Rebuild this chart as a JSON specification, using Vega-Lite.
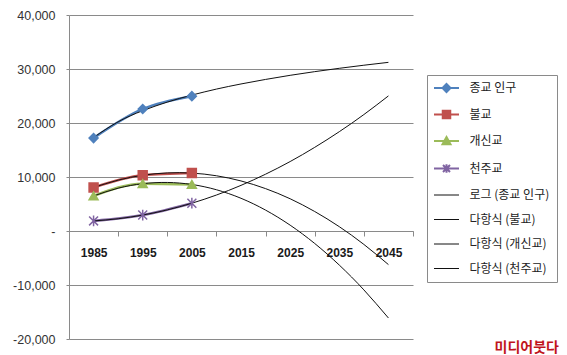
{
  "$schema": "https://vega.github.io/schema/vega-lite/v6.json",
  "width": 344,
  "height": 324,
  "autosize": {"type": "none"},
  "padding": {"left": 69, "top": 15, "right": 154, "bottom": 16},
  "background": "white",
  "title": {
    "text": "미디어붓다", "orient": "bottom", "anchor": "end", "frame": "group",
    "dx": 146, "offset": -5, "font": "Noto Sans CJK KR", "fontSize": 14, "fontWeight": "bold",
    "color": "#c0141c"
  },
  "config": {
    "view": {"stroke": null},
    "axis": {"labelFont": "Liberation Sans", "titleFont": "Liberation Sans"}
  },
  "data": {"values": [
    {"name": "종교 인구", "kind": "data", "year": 1985, "value": 17203},
    {"name": "종교 인구", "kind": "data", "year": 1995, "value": 22598},
    {"name": "종교 인구", "kind": "data", "year": 2005, "value": 24971},
    {"name": "불교", "kind": "data", "year": 1985, "value": 8059},
    {"name": "불교", "kind": "data", "year": 1995, "value": 10321},
    {"name": "불교", "kind": "data", "year": 2005, "value": 10726},
    {"name": "개신교", "kind": "data", "year": 1985, "value": 6489},
    {"name": "개신교", "kind": "data", "year": 1995, "value": 8760},
    {"name": "개신교", "kind": "data", "year": 2005, "value": 8616},
    {"name": "천주교", "kind": "data", "year": 1985, "value": 1865},
    {"name": "천주교", "kind": "data", "year": 1995, "value": 2951},
    {"name": "천주교", "kind": "data", "year": 2005, "value": 5146},

    {"name": "로그 (종교 인구)", "kind": "trend", "year": 1985, "value": 17320},
    {"name": "로그 (종교 인구)", "kind": "trend", "year": 1990, "value": 20220},
    {"name": "로그 (종교 인구)", "kind": "trend", "year": 1995, "value": 22280},
    {"name": "로그 (종교 인구)", "kind": "trend", "year": 2000, "value": 23870},
    {"name": "로그 (종교 인구)", "kind": "trend", "year": 2005, "value": 25170},
    {"name": "로그 (종교 인구)", "kind": "trend", "year": 2010, "value": 26280},
    {"name": "로그 (종교 인구)", "kind": "trend", "year": 2015, "value": 27230},
    {"name": "로그 (종교 인구)", "kind": "trend", "year": 2020, "value": 28070},
    {"name": "로그 (종교 인구)", "kind": "trend", "year": 2025, "value": 28830},
    {"name": "로그 (종교 인구)", "kind": "trend", "year": 2030, "value": 29510},
    {"name": "로그 (종교 인구)", "kind": "trend", "year": 2035, "value": 30130},
    {"name": "로그 (종교 인구)", "kind": "trend", "year": 2040, "value": 30700},
    {"name": "로그 (종교 인구)", "kind": "trend", "year": 2045, "value": 31230},

    {"name": "다항식 (불교)", "kind": "trend", "year": 1985, "value": 8059},
    {"name": "다항식 (불교)", "kind": "trend", "year": 1990, "value": 9420},
    {"name": "다항식 (불교)", "kind": "trend", "year": 1995, "value": 10321},
    {"name": "다항식 (불교)", "kind": "trend", "year": 2000, "value": 10756},
    {"name": "다항식 (불교)", "kind": "trend", "year": 2005, "value": 10726},
    {"name": "다항식 (불교)", "kind": "trend", "year": 2010, "value": 10230},
    {"name": "다항식 (불교)", "kind": "trend", "year": 2015, "value": 9270},
    {"name": "다항식 (불교)", "kind": "trend", "year": 2020, "value": 7850},
    {"name": "다항식 (불교)", "kind": "trend", "year": 2025, "value": 5970},
    {"name": "다항식 (불교)", "kind": "trend", "year": 2030, "value": 3610},
    {"name": "다항식 (불교)", "kind": "trend", "year": 2035, "value": 800},
    {"name": "다항식 (불교)", "kind": "trend", "year": 2040, "value": -2480},
    {"name": "다항식 (불교)", "kind": "trend", "year": 2045, "value": -6220},

    {"name": "다항식 (개신교)", "kind": "trend", "year": 1985, "value": 6489},
    {"name": "다항식 (개신교)", "kind": "trend", "year": 1990, "value": 7930},
    {"name": "다항식 (개신교)", "kind": "trend", "year": 1995, "value": 8760},
    {"name": "다항식 (개신교)", "kind": "trend", "year": 2000, "value": 8990},
    {"name": "다항식 (개신교)", "kind": "trend", "year": 2005, "value": 8616},
    {"name": "다항식 (개신교)", "kind": "trend", "year": 2010, "value": 7640},
    {"name": "다항식 (개신교)", "kind": "trend", "year": 2015, "value": 6060},
    {"name": "다항식 (개신교)", "kind": "trend", "year": 2020, "value": 3870},
    {"name": "다항식 (개신교)", "kind": "trend", "year": 2025, "value": 1080},
    {"name": "다항식 (개신교)", "kind": "trend", "year": 2030, "value": -2310},
    {"name": "다항식 (개신교)", "kind": "trend", "year": 2035, "value": -6310},
    {"name": "다항식 (개신교)", "kind": "trend", "year": 2040, "value": -10900},
    {"name": "다항식 (개신교)", "kind": "trend", "year": 2045, "value": -16110},

    {"name": "다항식 (천주교)", "kind": "trend", "year": 1985, "value": 1865},
    {"name": "다항식 (천주교)", "kind": "trend", "year": 1990, "value": 2270},
    {"name": "다항식 (천주교)", "kind": "trend", "year": 1995, "value": 2951},
    {"name": "다항식 (천주교)", "kind": "trend", "year": 2000, "value": 3910},
    {"name": "다항식 (천주교)", "kind": "trend", "year": 2005, "value": 5146},
    {"name": "다항식 (천주교)", "kind": "trend", "year": 2010, "value": 6660},
    {"name": "다항식 (천주교)", "kind": "trend", "year": 2015, "value": 8450},
    {"name": "다항식 (천주교)", "kind": "trend", "year": 2020, "value": 10520},
    {"name": "다항식 (천주교)", "kind": "trend", "year": 2025, "value": 12860},
    {"name": "다항식 (천주교)", "kind": "trend", "year": 2030, "value": 15490},
    {"name": "다항식 (천주교)", "kind": "trend", "year": 2035, "value": 18390},
    {"name": "다항식 (천주교)", "kind": "trend", "year": 2040, "value": 21560},
    {"name": "다항식 (천주교)", "kind": "trend", "year": 2045, "value": 25020}
  ]},
  "encoding": {
    "x": {
      "field": "year", "type": "quantitative",
      "scale": {"domain": [1980, 2050], "nice": false, "zero": false},
      "axis": {
        "title": null, "orient": "bottom", "offset": -108,
        "values": [1990, 2000, 2010, 2020, 2030, 2040, 2050],
        "labelExpr": "'' + (datum.value - 5)",
        "labelOffset": -24.5,
        "grid": false,
        "domainColor": "#8a8a8a", "tickColor": "#8a8a8a",
        "tickSize": 5, "labelPadding": 11,
        "labelFontSize": 12, "labelFontWeight": "bold", "labelColor": "#1a1a1a",
        "labelFlush": false, "labelOverlap": false
      }
    },
    "y": {
      "field": "value", "type": "quantitative",
      "scale": {"domain": [-20000, 40000], "nice": false},
      "axis": {
        "title": null,
        "values": [-20000, -10000, 0, 10000, 20000, 30000, 40000],
        "labelExpr": "datum.value == 0 ? '-' : (datum.value < 0 ? '-' + format(-datum.value, ',') : format(datum.value, ','))",
        "grid": true, "gridColor": "#8a8a8a", "gridWidth": 1,
        "domainColor": "#8a8a8a", "tickColor": "#8a8a8a",
        "tickSize": 3, "labelPadding": 11,
        "labelFontSize": 12.5, "labelColor": "#333333",
        "labelFlush": false, "labelOverlap": false
      }
    },
    "color": {
      "field": "name", "type": "nominal",
      "scale": {
        "domain": ["종교 인구", "불교", "개신교", "천주교", "로그 (종교 인구)", "다항식 (불교)", "다항식 (개신교)", "다항식 (천주교)"],
        "range": ["#4F81BD", "#C0504D", "#9BBB59", "#8064A2", "#111111", "#111111", "#111111", "#111111"]
      },
      "legend": {
        "title": null,
        "orient": "none", "legendX": 358, "legendY": 60,
        "strokeColor": "#8a8a8a", "padding": 7, "fillColor": "white",
        "symbolSize": 625, "symbolStrokeWidth": 1.5, "symbolOffset": 6.5,
        "labelFont": "Noto Sans CJK KR", "labelFontSize": 12, "labelColor": "#222222",
        "labelOffset": 17, "rowPadding": 10.5, "labelLimit": 200,
        "encode": {
          "symbols": {
            "update": {
              "shape": {"signal": "datum.value === '종교 인구' ? 'M-1,0H1M0,-0.32L0.32,0L0,0.32L-0.32,0Z' : datum.value === '불교' ? 'M-1,0H1M-0.3,-0.3H0.3V0.3H-0.3Z' : datum.value === '개신교' ? 'M-1,0H1M0,-0.32L0.32,0.26H-0.32Z' : datum.value === '천주교' ? 'M-1,0H1M-0.28,-0.28L0.28,0.28M-0.28,0.28L0.28,-0.28M0,-0.34V0.34' : 'M-1,0H1M0,-0.34L0,-0.34M0,0.34L0,0.34'"},
              "fill": {"signal": "datum.value === '종교 인구' || datum.value === '불교' || datum.value === '개신교' ? scale('color', datum.value) : 'transparent'"},
              "stroke": {"signal": "scale('color', datum.value)"},
              "strokeWidth": {"signal": "indexof(['종교 인구','불교','개신교','천주교'], datum.value) >= 0 ? 2 : 1"},
              "opacity": {"value": 1}
            }
          }
        }
      }
    }
  },
  "layer": [
    {
      "transform": [{"filter": "datum.kind === 'data'"}],
      "mark": {"type": "line", "strokeWidth": 2.5, "interpolate": "monotone"}
    },
    {
      "transform": [{"filter": "datum.kind === 'trend'"}],
      "mark": {"type": "line", "strokeWidth": 1, "interpolate": "natural"}
    },
    {
      "transform": [{"filter": "datum.kind === 'data'"}],
      "mark": {"type": "point", "filled": true, "opacity": 1, "size": 80, "strokeWidth": 1.5},
      "encoding": {
        "shape": {
          "field": "name", "type": "nominal", "legend": null,
          "scale": {
            "domain": ["종교 인구", "불교", "개신교", "천주교"],
            "range": ["diamond", "square", "triangle-up", "M-1,-1L1,1M-1,1L1,-1M0,-1.2V1.2"]
          }
        },
        "stroke": {
          "field": "name", "type": "nominal", "legend": null,
          "scale": {
            "domain": ["종교 인구", "불교", "개신교", "천주교"],
            "range": ["#4F81BD", "#C0504D", "#9BBB59", "#8064A2"]
          }
        }
      }
    }
  ]
}
